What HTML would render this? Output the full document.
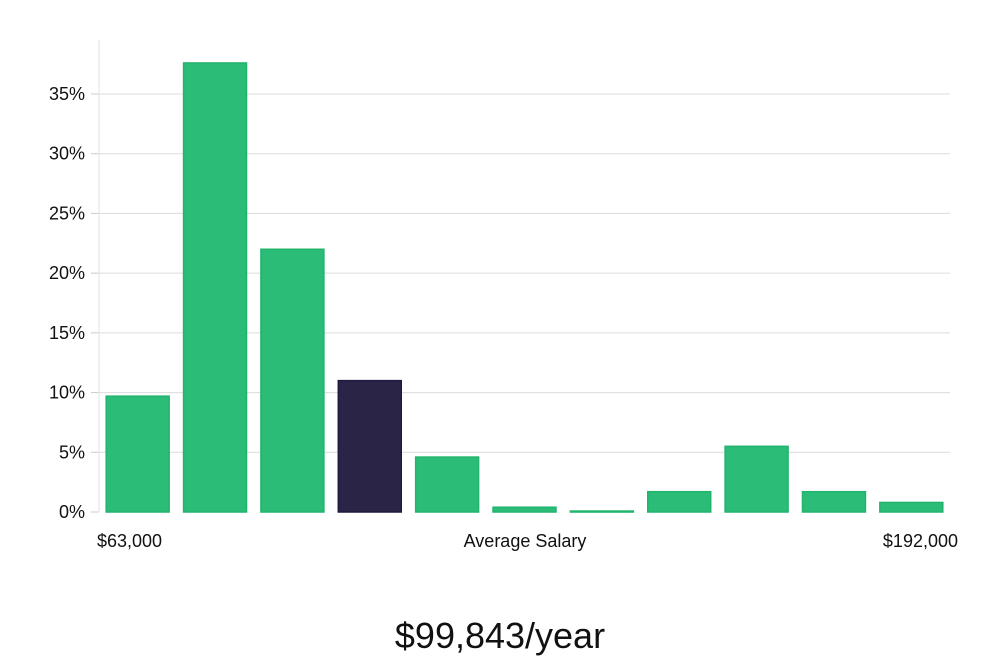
<!DOCTYPE html>
<html><head><meta charset="utf-8"><style>
body{margin:0;background:#fff;width:1000px;height:660px;overflow:hidden;font-family:"Liberation Sans","DejaVu Sans",sans-serif}
</style></head><body>
<svg id="chart" width="1000" height="660" xmlns="http://www.w3.org/2000/svg"></svg>
<script>
const categories=["b1","b2","b3","b4","b5","b6","b7","b8","b9","b10","b11"];
const values=[9.7,37.6,22.0,11.0,4.6,0.4,0.08,1.7,5.5,1.7,0.8];
const highlight=[false,false,false,true,false,false,false,false,false,false,false];
const ticks=[0,5,10,15,20,25,30,35];
const tickLabels=["0%","5%","10%","15%","20%","25%","30%","35%"];
const NS="http://www.w3.org/2000/svg";
const svg=document.getElementById('chart');
const x0=99,x1=950,y0=512,pxPerUnit=(512-94)/35;
const band=(x1-x0)/categories.length,pad=7.2;
const y=v=>y0-v*pxPerUnit;
const xb=i=>x0+i*band+pad;
function mk(t,a){const e=document.createElementNS(NS,t);for(const k in a)e.setAttribute(k,a[k]);svg.appendChild(e);return e;}
ticks.forEach((t,i)=>{
 if(t>0){const g=mk('line',{x1:x0,x2:x1,y1:y(t),y2:y(t),stroke:'#dcdcdc','stroke-width':1});
 
 }
 const tk=mk('line',{x1:x0-8,x2:x0,y1:y(t),y2:y(t),stroke:'#ccc'});
 
 
 const l=mk('text',{x:85,y:y(t)+6,'text-anchor':'end','font-size':18,fill:'#111'});
 l.textContent=tickLabels[i];
 
 
});
const ax=mk('line',{x1:x0,x2:x0,y1:40,y2:y0,stroke:'#e0e0e0'});


values.forEach((v,i)=>{
 const r=mk('rect',{x:xb(i),y:y(v),width:band-2*pad,height:Math.max(y0-y(v),1),fill:highlight[i]?'#2a2547':'#2bbd77',stroke:highlight[i]?'#1f1a40':'#22b46d','stroke-width':1.5});
 
 
});
function txt(s,x,yy,size,anchor,name){const t=mk('text',{x:x,y:yy,'font-size':size,'text-anchor':anchor,fill:'#111'});t.textContent=s;
 
 return t;}
txt('$63,000',97,547,18,'start','x-min-label');
txt('Average Salary',525,547,18,'middle','x-axis-title');
txt('$192,000',958,547,18,'end','x-max-label');
txt('$99,843/year',500,648,36,'middle','average-salary-value');
</script>
</body></html>
